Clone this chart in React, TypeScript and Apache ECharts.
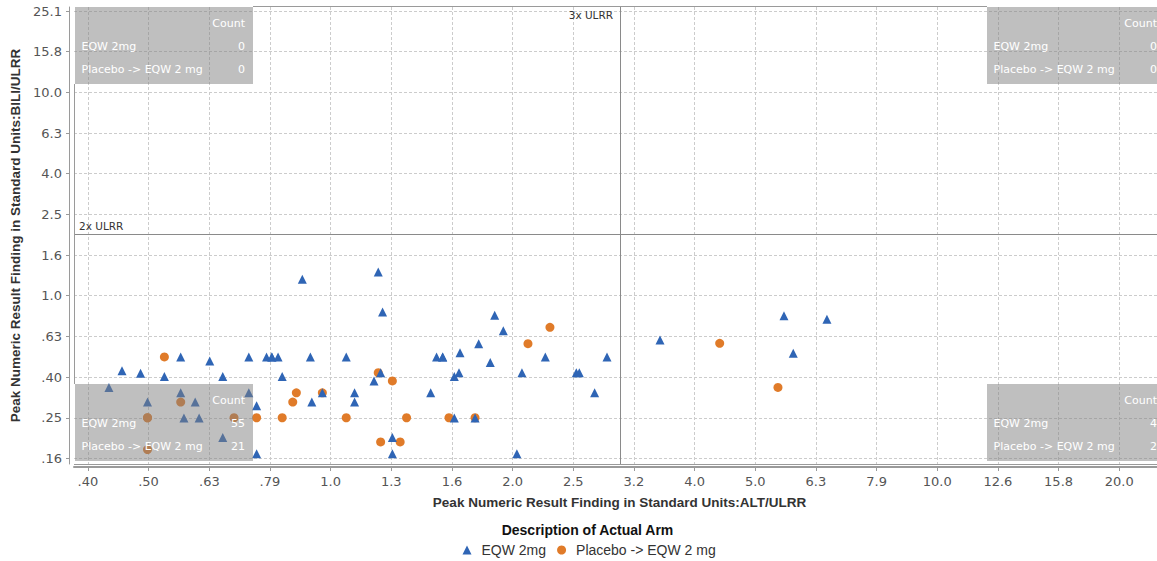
import React, { useEffect, useRef } from "react";
import * as echarts from "echarts";

// Tick positions (10^(k/10) on ALT, 10^(k/5) on BILI) and their printed labels
const xTickValues = [0.398, 0.501, 0.631, 0.794, 1.0, 1.259, 1.585, 1.995, 2.512, 3.162, 3.981, 5.012, 6.31, 7.943, 10.0, 12.589, 15.849, 19.953];
const xTickLabels = [".40", ".50", ".63", ".79", "1.0", "1.3", "1.6", "2.0", "2.5", "3.2", "4.0", "5.0", "6.3", "7.9", "10.0", "12.6", "15.8", "20.0"];
const yTickValues = [0.158, 0.251, 0.398, 0.631, 1.0, 1.585, 2.512, 3.981, 6.31, 10.0, 15.849, 25.119];
const yTickLabels = [".16", ".25", ".40", ".63", "1.0", "1.6", "2.5", "4.0", "6.3", "10.0", "15.8", "25.1"];

// Axis extents
const X_MIN = 0.3775;
const X_MAX = 23.74;
const Y_MIN = 0.1487;
const Y_MAX = 26.3;

// Hy's law reference limits (x ULRR)
const ALT_LIMIT = 3;
const BILI_LIMIT = 2;

const ARM_A = "EQW 2mg";
const ARM_B = "Placebo -> EQW 2 mg";

// Peak ALT/ULRR and BILI/ULRR per subject, EQW 2mg arm
const eqwAlt = [
  0.431, 0.453, 0.486, 0.499, 0.532, 0.566, 0.566, 0.573, 0.598, 0.607,
  0.632, 0.664, 0.664, 0.733, 0.733, 0.755, 0.755, 0.784, 0.8, 0.8,
  0.819, 0.832, 0.898, 0.926, 0.931, 0.969, 1.061, 1.095, 1.095, 1.179,
  1.209, 1.198, 1.218, 1.264, 1.264, 1.462, 1.495, 1.53, 1.53, 1.634,
  1.599, 1.628, 1.599, 1.73, 1.754, 1.833, 1.864, 1.926, 2.028, 2.067,
  2.259, 2.541, 2.57, 2.724, 2.855, 3.491, 5.589, 6.579, 5.789,
];
const eqwBili = [
  0.354, 0.428, 0.415, 0.3, 0.4, 0.5, 0.333, 0.25, 0.3, 0.25,
  0.477, 0.4, 0.201, 0.5, 0.333, 0.288, 0.167, 0.5, 0.5, 0.5,
  0.5, 0.4, 1.204, 0.5, 0.3, 0.333, 0.5, 0.333, 0.3, 0.381,
  0.418, 1.308, 0.832, 0.201, 0.167, 0.333, 0.5, 0.5, 0.5, 0.524,
  0.4, 0.418, 0.25, 0.25, 0.581, 0.47, 0.801, 0.673, 0.167, 0.418,
  0.5, 0.418, 0.418, 0.333, 0.5, 0.606, 0.797, 0.766, 0.521,
];

// Peak ALT/ULRR and BILI/ULRR per subject, Placebo -> EQW 2 mg arm
const placeboAlt = [
  0.499, 0.499, 0.499, 0.532, 0.566, 0.693, 0.755, 0.832, 0.866, 0.878,
  0.969, 1.061, 1.198, 1.209, 1.264, 1.302, 1.334, 1.567, 1.73, 2.115,
  2.299, 4.379, 5.463,
];
const placeboBili = [
  0.251, 0.251, 0.175, 0.5, 0.3, 0.251, 0.251, 0.251, 0.3, 0.333,
  0.333, 0.251, 0.418, 0.191, 0.381, 0.191, 0.251, 0.251, 0.251, 0.581,
  0.699, 0.583, 0.354,
];

const BLUE = "#2f65b5";
const ORANGE = "#e07b29";

function pairs(xs: number[], ys: number[]) {
  return xs.map((x, i) => [x, ys[i]]);
}

function nearestLabel(v: number, ticks: number[], labels: string[]) {
  let best = 0;
  let bestD = Infinity;
  ticks.forEach((t, i) => {
    const d = Math.abs(Math.log10(v) - Math.log10(t));
    if (d < bestD) {
      bestD = d;
      best = i;
    }
  });
  return labels[best];
}

function quadrantCount(xs: number[], ys: number[], highAlt: boolean, highBili: boolean) {
  let n = 0;
  xs.forEach((x, i) => {
    const a = x >= ALT_LIMIT;
    const b = ys[i] >= BILI_LIMIT;
    if (a === highAlt && b === highBili) n++;
  });
  return n;
}

const BOX_FONT = "DejaVu Sans";
const BOX_W = 178;
const BOX_H = 77;

function countBox(x: number, y: number, highAlt: boolean, highBili: boolean) {
  const textStyle = { fill: "#ffffff", fontSize: 11, fontFamily: BOX_FONT, verticalAlign: "middle" };
  return {
    type: "group",
    x,
    y,
    z: 100,
    children: [
      { type: "rect", shape: { x: 0, y: 0, width: BOX_W, height: BOX_H }, style: { fill: "rgba(128,128,128,0.5)" }, z: 100 },
      { type: "text", x: 170, y: 16, style: { ...textStyle, text: "Count", align: "right" }, z: 101 },
      { type: "text", x: 6.5, y: 39, style: { ...textStyle, text: ARM_A, align: "left" }, z: 101 },
      { type: "text", x: 170, y: 39, style: { ...textStyle, text: String(quadrantCount(eqwAlt, eqwBili, highAlt, highBili)), align: "right" }, z: 101 },
      { type: "text", x: 6.5, y: 62, style: { ...textStyle, text: ARM_B, align: "left" }, z: 101 },
      { type: "text", x: 170, y: 62, style: { ...textStyle, text: String(quadrantCount(placeboAlt, placeboBili, highAlt, highBili)), align: "right" }, z: 101 },
    ],
  };
}

export default function App() {
  const ref = useRef<HTMLDivElement>(null);

  useEffect(() => {
    if (!ref.current) return;
    const chart = echarts.init(ref.current, null, { renderer: "svg" });

    const W = 1157;
    const gridLeft = 74;
    const gridTop = 7;
    const gridWidth = 1091; // plot runs a little past the right edge of the view
    const gridHeight = 457;
    const plotRight = gridLeft + gridWidth;
    const plotBottom = gridTop + gridHeight;

    const splitLine = { show: true, lineStyle: { color: "#cccccc", type: [3, 2], width: 1 } };
    const tickLabel = { color: "#555555", fontSize: 13, fontFamily: "DejaVu Sans" };
    const axisName = { color: "#333333", fontSize: 13.5, fontWeight: "bold", fontFamily: "Liberation Sans" };

    chart.setOption({
      animation: false,
      backgroundColor: "#ffffff",
      grid: {
        left: gridLeft,
        top: gridTop,
        width: gridWidth,
        height: gridHeight,
        show: false,
        containLabel: false,
        outerBoundsMode: "none",
      },
      xAxis: {
        type: "log",
        logBase: 10,
        min: X_MIN,
        max: X_MAX,
        offset: 3,
        name: "Peak Numeric Result Finding in Standard Units:ALT/ULRR",
        nameLocation: "middle",
        nameGap: 28,
        nameTextStyle: axisName,
        axisLine: { show: true, lineStyle: { color: "#9a9a9a", width: 2 } },
        axisTick: { show: true, length: 4, customValues: xTickValues, lineStyle: { color: "#9a9a9a" } },
        axisLabel: {
          ...tickLabel,
          margin: 8,
          customValues: xTickValues,
          formatter: (v: number) => nearestLabel(v, xTickValues, xTickLabels),
        },
        splitLine,
        minorTick: { show: false },
        minorSplitLine: { show: false },
      },
      yAxis: {
        type: "log",
        logBase: 10,
        min: Y_MIN,
        max: Y_MAX,
        offset: 5,
        name: "Peak Numeric Result Finding in Standard Units:BILI/ULRR",
        nameLocation: "middle",
        nameGap: 41,
        nameTextStyle: axisName,
        axisLine: { show: true, lineStyle: { color: "#9a9a9a", width: 1 } },
        axisTick: { show: true, length: 3, customValues: yTickValues, lineStyle: { color: "#9a9a9a" } },
        axisLabel: {
          ...tickLabel,
          margin: 7,
          customValues: yTickValues,
          formatter: (v: number) => nearestLabel(v, yTickValues, yTickLabels),
        },
        splitLine,
      },
      legend: {
        left: 457.5,
        top: 538,
        itemWidth: 9,
        itemHeight: 9,
        itemGap: 11,
        textStyle: { color: "#333333", fontSize: 14, fontFamily: "Liberation Sans", padding: [0, 0, 0, 5] },
        data: [
          { name: ARM_A, icon: "triangle" },
          { name: ARM_B, icon: "circle" },
        ],
      },
      series: [
        {
          name: ARM_A,
          type: "scatter",
          symbol: "triangle",
          symbolSize: 9,
          itemStyle: { color: BLUE, opacity: 1 },
          data: pairs(eqwAlt, eqwBili),
          z: 3,
          markLine: {
            silent: true,
            symbol: ["none", "none"],
            label: { show: false },
            lineStyle: { color: "#8a8a8a", type: "solid", width: 1 },
            data: [{ yAxis: BILI_LIMIT }, { xAxis: ALT_LIMIT }],
          },
        },
        {
          name: ARM_B,
          type: "scatter",
          symbol: "circle",
          symbolSize: 9,
          itemStyle: { color: ORANGE, opacity: 1 },
          data: pairs(placeboAlt, placeboBili),
          z: 2,
        },
      ],
    });

    const [refX] = chart.convertToPixel({ gridIndex: 0 }, [ALT_LIMIT, 1]) as number[];
    const [, refY] = chart.convertToPixel({ gridIndex: 0 }, [1, BILI_LIMIT]) as number[];

    const refFont = { fill: "#333333", fontSize: 10.5, fontFamily: "DejaVu Sans", verticalAlign: "middle" };
    const borderStyle = { stroke: "#9a9a9a", lineWidth: 1 };
    const lowBoxY = plotBottom - 3 - BOX_H;

    chart.setOption({
      graphic: [
        // plot frame segments between the count tables
        { type: "line", shape: { x1: gridLeft + 1 + BOX_W, y1: gridTop - 0.5, x2: plotRight - BOX_W, y2: gridTop - 0.5 }, style: borderStyle, z: 50 },
        { type: "line", shape: { x1: gridLeft + 0.5, y1: gridTop + BOX_H, x2: gridLeft + 0.5, y2: lowBoxY }, style: borderStyle, z: 50 },
        { type: "line", shape: { x1: gridLeft, y1: plotBottom + 0.5, x2: W, y2: plotBottom + 0.5 }, style: borderStyle, z: 50 },
        // reference line captions
        { type: "text", x: gridLeft + 5, y: refY - 9, style: { ...refFont, text: "2x ULRR", align: "left" }, z: 60 },
        { type: "text", x: refX - 7, y: gridTop + 8, style: { ...refFont, text: "3x ULRR", align: "right" }, z: 60 },
        // count tables per quadrant
        countBox(gridLeft + 1, gridTop, false, true),
        countBox(plotRight - BOX_W, gridTop, true, true),
        countBox(gridLeft + 1, lowBoxY, false, false),
        countBox(plotRight - BOX_W, lowBoxY, true, false),
        // legend heading
        {
          type: "text",
          x: 587.5,
          y: 530,
          style: {
            text: "Description of Actual Arm",
            align: "center",
            verticalAlign: "middle",
            fill: "#111111",
            fontSize: 14,
            fontWeight: "bold",
            fontFamily: "Liberation Sans",
          },
          z: 60,
        },
      ],
    });

    return () => {
      chart.dispose();
    };
  }, []);

  return (
    <div
      ref={ref}
      style={{ position: "absolute", left: 0, top: 0, width: 1157, height: 561, background: "#ffffff" }}
    />
  );
}
